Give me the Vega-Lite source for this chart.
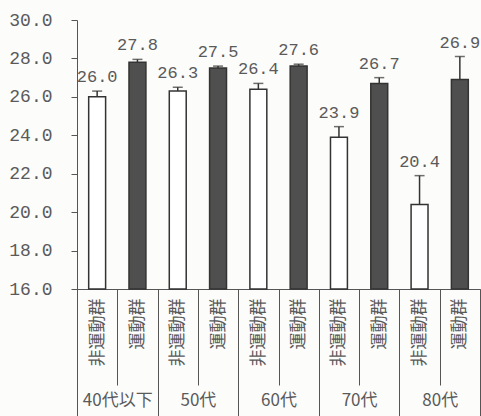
{
  "$schema": "https://vega.github.io/schema/vega-lite/v6.json",
  "width": 403,
  "height": 269,
  "autosize": {"type": "none"},
  "padding": {"left": 77, "top": 20, "right": 1, "bottom": 127},
  "background": "#fcfcfa",
  "config": {
    "view": {"stroke": null},
    "axis": {"domainColor": "#555555", "tickColor": "#555555", "labelColor": "#5a5a5a", "grid": false, "title": null},
    "axisY": {"tickSize": 6, "labelPadding": 19, "labelOverlap": false, "labelFont": "Liberation Mono", "labelFontSize": 18, "format": ".1f"}
  },
  "data": {
    "values": [
      {"slot": "40代以下|非運動群", "group": "40代以下", "type": "非運動群", "value": 26.0, "hi": 26.3},
      {"slot": "40代以下|運動群", "group": "40代以下", "type": "運動群", "value": 27.8, "hi": 27.95},
      {"slot": "50代|非運動群", "group": "50代", "type": "非運動群", "value": 26.3, "hi": 26.5},
      {"slot": "50代|運動群", "group": "50代", "type": "運動群", "value": 27.5, "hi": 27.6},
      {"slot": "60代|非運動群", "group": "60代", "type": "非運動群", "value": 26.4, "hi": 26.7},
      {"slot": "60代|運動群", "group": "60代", "type": "運動群", "value": 27.6, "hi": 27.7},
      {"slot": "70代|非運動群", "group": "70代", "type": "非運動群", "value": 23.9, "hi": 24.45},
      {"slot": "70代|運動群", "group": "70代", "type": "運動群", "value": 26.7, "hi": 27.0},
      {"slot": "80代|非運動群", "group": "80代", "type": "非運動群", "value": 20.4, "hi": 21.9},
      {"slot": "80代|運動群", "group": "80代", "type": "運動群", "value": 26.9, "hi": 28.1}
    ]
  },
  "layer": [
    {
      "encoding": {
        "x": {
          "field": "slot",
          "type": "nominal",
          "sort": null,
          "scale": {"paddingInner": 0, "paddingOuter": 0},
          "axis": {
            "orient": "bottom",
            "tickBand": "extent",
            "tickSize": 96,
            "labelAngle": -90,
            "labelAlign": "right",
            "labelBaseline": "middle",
            "labelPadding": -87,
            "labelFont": "Noto Sans CJK JP",
            "labelFontSize": 17,
            "labelExpr": "split(datum.label, '|')[1]"
          }
        }
      },
      "layer": [
        {
          "mark": {"type": "bar", "width": {"band": 0.42}, "strokeWidth": 1.5, "stroke": "#333333"},
          "encoding": {
            "y": {
              "field": "value",
              "type": "quantitative",
              "scale": {"domain": [16, 30], "zero": false, "nice": false},
              "axis": {"values": [16, 18, 20, 22, 24, 26, 28, 30], "labelOverlap": false, "format": ".1f"}
            },
            "y2": {"datum": 16},
            "fill": {
              "field": "type",
              "type": "nominal",
              "scale": {"domain": ["非運動群", "運動群"], "range": ["#ffffff", "#4f4f4f"]},
              "legend": null
            }
          }
        },
        {
          "mark": {"type": "rule", "strokeWidth": 1.5, "color": "#333333"},
          "encoding": {
            "y": {"field": "value", "type": "quantitative", "axis": {"values": [16, 18, 20, 22, 24, 26, 28, 30], "labelOverlap": false, "format": ".1f"}},
            "y2": {"field": "hi"}
          }
        },
        {
          "mark": {"type": "tick", "size": 10, "thickness": 1.5, "color": "#333333"},
          "encoding": {
            "y": {"field": "hi", "type": "quantitative", "axis": {"values": [16, 18, 20, 22, 24, 26, 28, 30], "labelOverlap": false, "format": ".1f"}}
          }
        }
      ]
    },
    {
      "mark": {"type": "text", "baseline": "bottom", "dy": -5, "font": "Liberation Mono", "fontSize": 17, "color": "#5a5a5a"},
      "encoding": {
        "x": {
          "field": "group",
          "type": "nominal",
          "sort": null,
          "scale": {"paddingInner": 0, "paddingOuter": 0},
          "axis": {
            "orient": "bottom",
            "domain": false,
            "tickBand": "extent",
            "tickSize": 127,
            "labelAngle": 0,
            "labelPadding": -24,
            "labelBaseline": "top",
            "labelFont": "Noto Sans CJK JP",
            "labelFontSize": 17
          }
        },
        "xOffset": {
          "field": "type",
          "type": "nominal",
          "scale": {"type": "band", "domain": ["非運動群", "運動群"], "paddingInner": 0, "paddingOuter": 0}
        },
        "y": {"field": "hi", "type": "quantitative", "axis": {"values": [16, 18, 20, 22, 24, 26, 28, 30], "labelOverlap": false, "format": ".1f"}},
        "text": {"field": "value", "type": "quantitative", "format": ".1f"}
      }
    }
  ],
  "resolve": {"scale": {"x": "independent"}, "axis": {"x": "independent"}}
}
